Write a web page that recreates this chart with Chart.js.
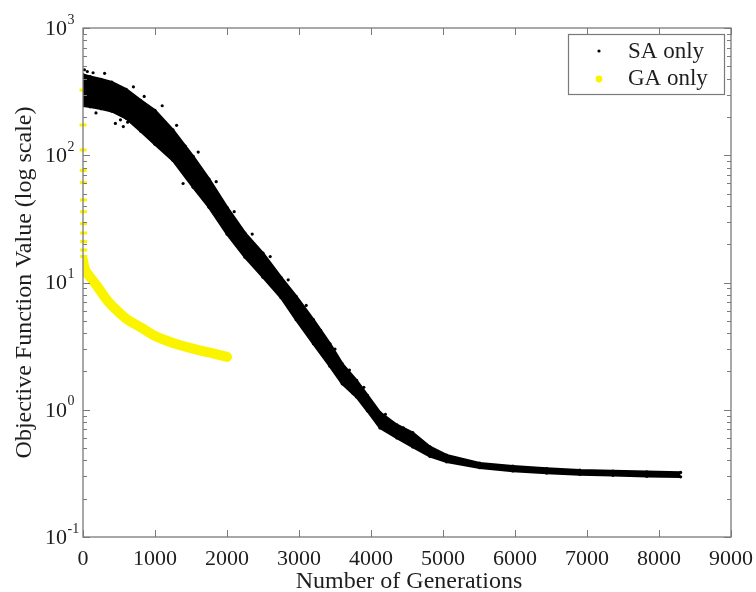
<!DOCTYPE html>
<html>
<head>
<meta charset="utf-8">
<script src="https://cdn.jsdelivr.net/npm/chart.js@4.4.1/dist/chart.umd.min.js"></script>
<style>
  html, body { margin: 0; padding: 0; background: #ffffff; }
  #wrap { width: 756px; height: 592px; }
  canvas { display: block; }
</style>
</head>
<body>
<div id="wrap"><canvas id="c" width="756" height="592"></canvas></div>
<script>
// ---------- DATA ----------
// SA only: envelope of the dense scatter cloud (upper / lower edge)
const saGen = [0, 100, 250, 400, 600, 800, 1000, 1250, 1530, 1750, 2000, 2250, 2500, 2750, 2960, 3200, 3430, 3600, 3800, 3950, 4125, 4360, 4580, 4820, 5050, 5510, 5970, 6440, 6900, 7360, 7830, 8300];
const saHi  = [430, 415, 395, 375, 330, 270, 225, 158, 98, 65, 39, 24.5, 17, 11, 7.8, 5.1, 3.3, 2.3, 1.7, 1.3, 0.95, 0.76, 0.66, 0.51, 0.44, 0.38, 0.36, 0.345, 0.335, 0.33, 0.325, 0.322];
const saLo  = [245, 240, 232, 222, 195, 155, 122, 91, 56, 39, 24, 15.8, 11, 7.6, 5.1, 3.3, 2.2, 1.6, 1.26, 0.98, 0.72, 0.60, 0.51, 0.43, 0.39, 0.35, 0.33, 0.318, 0.31, 0.305, 0.3, 0.297];
// SA only: isolated dots scattered around the cloud
const saDotGen = [20, 60, 140, 180, 300, 450, 520, 560, 620, 700, 850, 900, 1100, 1150, 1300, 1390, 1420, 1600, 1650, 1850, 1900, 2100, 2200, 2350, 2400, 2600, 2650, 2850, 2900, 3100, 3150, 3300, 3350, 3500, 3550, 3700, 3750, 3900, 3950, 4200, 4250, 4450, 4500];
const saDotVal = [470, 455, 445, 215, 440, 178, 190, 168, 182, 345, 290, 140, 245, 112, 172, 60, 118, 106, 50, 62, 31, 36, 17.5, 24, 14, 16, 9.2, 10.5, 6.2, 6.6, 4.0, 4.2, 2.6, 3.0, 1.85, 2.05, 1.35, 1.5, 1.0, 0.92, 0.70, 0.72, 0.56];
// GA only: best value per generation (thick yellow curve)
const gaGen = [0, 20, 50, 100, 200, 300, 400, 600, 800, 1000, 1250, 1500, 1750, 2000];
const gaVal = [15, 13, 12, 11, 9.3, 7.7, 6.6, 5.2, 4.45, 3.8, 3.35, 3.05, 2.82, 2.6];
// GA only: first generations (markers stacked on the y axis)
const gaEarlyGen = [0, 1, 2, 3, 4, 5, 6, 7, 8, 9, 10, 11];
const gaEarlyVal = [325, 173, 110, 76, 61, 44.5, 36, 29, 24.5, 21, 18, 16];
// Axes
const xTicks = [0, 1000, 2000, 3000, 4000, 5000, 6000, 7000, 8000, 9000];
const yExps = [-1, 0, 1, 2, 3];
const xTitle = 'Number of Generations';
const yTitle = 'Objective Function Value (log scale)';
const legendLabels = ['SA only', 'GA only'];

// ---------- styling ----------
const SERIF = '"Liberation Serif", "Times New Roman", serif';
const YELLOW = '#fbf400';
const TEXT = '#1e1e1e';
const AXIS = '#7a7a7a';

const pts = (xs, ys) => xs.map((x, i) => ({ x: x, y: ys[i] }));

const framePlugin = {
  id: 'framePlugin',
  afterDatasetsDraw(chart) {
    const ctx = chart.ctx;
    const { left, right, top, bottom } = chart.chartArea;
    const xs = chart.scales.x, ys = chart.scales.y;
    ctx.save();
    ctx.strokeStyle = AXIS;
    ctx.lineWidth = 1.3;
    ctx.strokeRect(left, top, right - left, bottom - top);
    const seg = (x1, y1, x2, y2) => { ctx.beginPath(); ctx.moveTo(x1, y1); ctx.lineTo(x2, y2); ctx.stroke(); };
    ctx.lineWidth = 1;
    xTicks.forEach(v => {
      const px = Math.round(xs.getPixelForValue(v)) + 0.5;
      seg(px, bottom, px, bottom - 7);
      seg(px, top, px, top + 7);
    });
    yExps.forEach(e => {
      const py = Math.round(ys.getPixelForValue(Math.pow(10, e))) + 0.5;
      seg(left, py, left + 7, py);
      seg(right, py, right - 7, py);
      if (e < 3) {
        for (let k = 2; k <= 9; k++) {
          const my = Math.round(ys.getPixelForValue(k * Math.pow(10, e))) + 0.5;
          seg(left, my, left + 4, my);
          seg(right, my, right - 4, my);
        }
      }
    });
    // y tick labels 10^e
    ctx.fillStyle = TEXT;
    yExps.forEach(e => {
      const py = ys.getPixelForValue(Math.pow(10, e));
      ctx.font = '22px ' + SERIF;
      ctx.textAlign = 'right';
      ctx.textBaseline = 'middle';
      ctx.fillText('10', left - 16, py + 1);
      ctx.font = '14px ' + SERIF;
      ctx.textAlign = 'left';
      ctx.fillText(String(e), left - 15.5, py - 8);
    });
    // y title
    ctx.save();
    ctx.translate(25, (top + bottom) / 2);
    ctx.rotate(-Math.PI / 2);
    ctx.font = '24px ' + SERIF;
    ctx.textAlign = 'center';
    ctx.textBaseline = 'middle';
    ctx.fillText(yTitle, 0, 0);
    ctx.restore();
    // x title
    ctx.font = '24px ' + SERIF;
    ctx.textAlign = 'center';
    ctx.textBaseline = 'alphabetic';
    ctx.fillText(xTitle, (left + right) / 2 + 2, 588);
    ctx.restore();
  },
  afterDraw(chart) {
    const ctx = chart.ctx;
    ctx.save();
    // legend box
    const bx = 568, by = 34, bw = 156, bh = 60;
    ctx.fillStyle = '#ffffff';
    ctx.fillRect(bx, by, bw, bh);
    ctx.strokeStyle = AXIS;
    ctx.lineWidth = 1.2;
    ctx.strokeRect(bx + 0.5, by + 0.5, bw, bh);
    // markers
    ctx.fillStyle = '#000000';
    ctx.beginPath(); ctx.arc(599, 51, 1.6, 0, Math.PI * 2); ctx.fill();
    ctx.fillStyle = YELLOW;
    ctx.beginPath(); ctx.arc(599, 79, 3.4, 0, Math.PI * 2); ctx.fill();
    // labels
    ctx.fillStyle = TEXT;
    ctx.font = '23px ' + SERIF;
    ctx.textAlign = 'left';
    ctx.textBaseline = 'middle';
    ctx.fillText(legendLabels[0], 628, 52);
    ctx.fillText(legendLabels[1], 628, 79);
    ctx.restore();
  }
};

new Chart(document.getElementById('c'), {
  type: 'line',
  data: {
    datasets: [
      { // upper edge of SA cloud
        label: 'saHi', data: pts(saGen, saHi),
        borderColor: '#000', borderWidth: 2.5, pointRadius: 1.6, pointBackgroundColor: '#000', pointBorderWidth: 0,
        fill: false, tension: 0
      },
      { // lower edge of SA cloud, filled up to the upper edge
        label: 'saLo', data: pts(saGen, saLo),
        borderColor: '#000', borderWidth: 2.5, pointRadius: 1.6, pointBackgroundColor: '#000', pointBorderWidth: 0,
        fill: '-1', backgroundColor: '#000', tension: 0
      },
      { // isolated SA dots
        label: 'saDots', type: 'scatter', data: pts(saDotGen, saDotVal),
        pointRadius: 1.6, pointBackgroundColor: '#000', pointBorderWidth: 0, showLine: false
      },
      { // GA curve
        label: 'GA only', data: pts(gaGen, gaVal),
        borderColor: YELLOW, borderWidth: 10, borderCapStyle: 'round', borderJoinStyle: 'round',
        pointRadius: 0, fill: false, tension: 0.35
      },
      { // GA first generations
        label: 'gaEarly', type: 'scatter', data: pts(gaEarlyGen, gaEarlyVal),
        pointStyle: 'line', pointRadius: 3.5, borderColor: YELLOW, pointBorderColor: YELLOW, pointBorderWidth: 3,
        showLine: false, clip: 8
      }
    ]
  },
  options: {
    responsive: false,
    animation: false,
    devicePixelRatio: 1,
    events: [],
    layout: { padding: { left: 83, top: 28, right: 25, bottom: 1 } },
    plugins: { legend: { display: false }, tooltip: { enabled: false } },
    scales: {
      x: {
        type: 'linear', min: 0, max: 9000,
        afterBuildTicks: s => { s.ticks = xTicks.map(v => ({ value: v })); },
        ticks: { font: { family: SERIF, size: 22 }, color: TEXT, padding: 9, maxRotation: 0, autoSkip: false,
                 callback: v => String(v) },
        grid: { display: false, drawTicks: false },
        border: { display: false },
        title: { display: false },
        afterFit: s => { s.height = 54; s.paddingLeft = 0; s.paddingRight = 0; }
      },
      y: {
        type: 'logarithmic', min: 0.1, max: 1000,
        ticks: { display: false },
        grid: { display: false, drawTicks: false },
        border: { display: false },
        afterFit: s => { s.width = 0; }
      }
    }
  },
  plugins: [framePlugin]
});
</script>
</body>
</html>
